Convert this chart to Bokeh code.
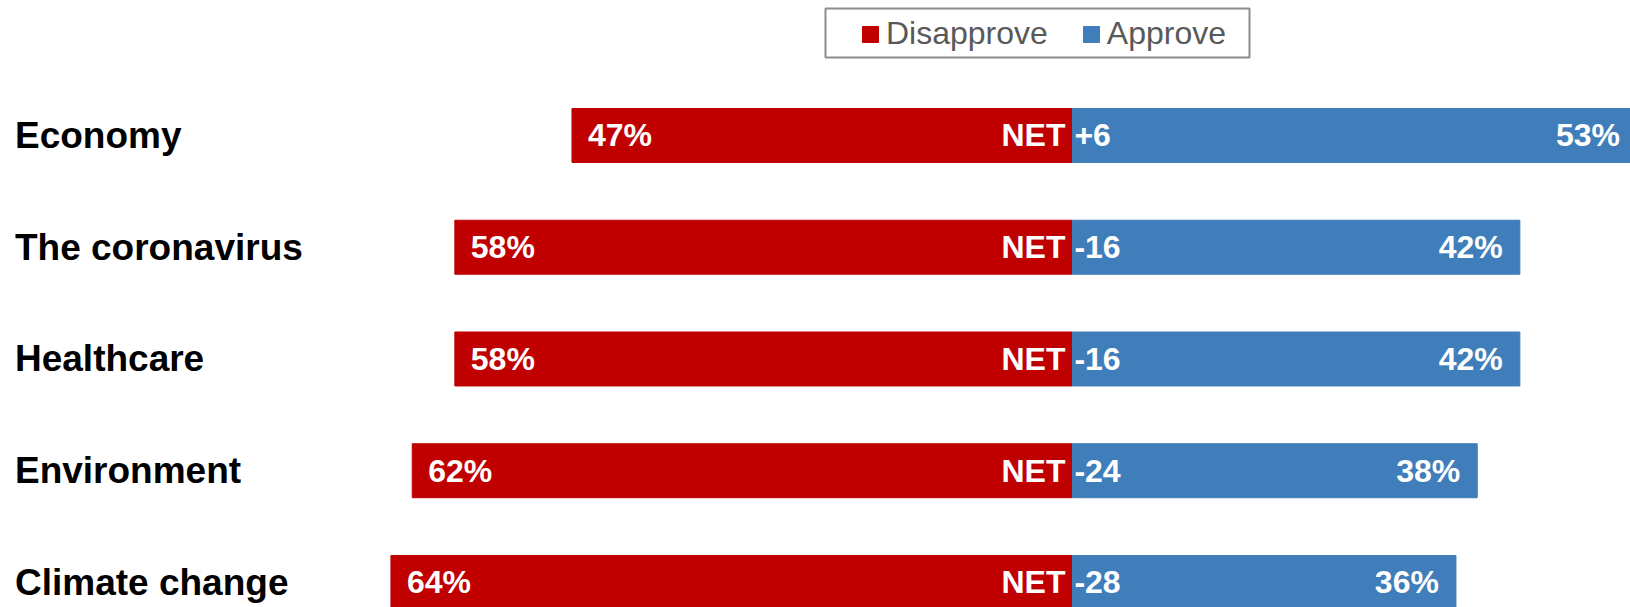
from bokeh.plotting import figure
from bokeh.models import Range1d, ColumnDataSource, Legend, LegendItem, BoxAnnotation
from bokeh.core.properties import value
from bokeh.embed import file_html
from bokeh.resources import INLINE

categories = ["Economy", "The coronavirus", "Healthcare", "Environment", "Climate change"]
disapprove = [47, 58, 58, 62, 64]
approve = [53, 42, 42, 38, 36]

RED = "#C00000"
BLUE = "#3F7EBA"
FONT = "Liberation Sans"

W, H = 1630, 607
x_start, x_end = -100.66, 52.39
y_bottom, y_top = 4.224, -1.208

ypos = list(range(len(categories)))
net = [a - d for a, d in zip(approve, disapprove)]
net_txt = ["NET " + ("+%d" % n if n > 0 else "%d" % n) for n in net]

src = ColumnDataSource(dict(
    y=ypos,
    cat=categories,
    d_left=[-d for d in disapprove],
    a_right=approve,
    d_lbl=["%d%%" % d for d in disapprove],
    a_lbl=["%d%%" % a for a in approve],
    d_lbl_x=[-d + 1.5 for d in disapprove],
    a_lbl_x=[a - 1.6 for a in approve],
    net_txt=net_txt,
    net_x=[-6.67] * len(categories),
    cat_x=[x_start + 1.36] * len(categories),
))

p = figure(width=W, height=H, output_backend="svg", toolbar_location=None,
           x_range=Range1d(x_start, x_end), y_range=Range1d(y_bottom, y_top),
           min_border=0, outline_line_color=None)
p.xaxis.visible = False
p.yaxis.visible = False
p.grid.visible = False

r_d = p.hbar(y="y", left="d_left", right=0, height=0.483, color=RED, source=src)
r_a = p.hbar(y="y", left=0, right="a_right", height=0.483, color=BLUE, source=src)

p.text(x="cat_x", y="y", text="cat", source=src, text_font=value(FONT),
       text_font_style="bold", text_font_size="37px", text_color="black",
       text_baseline="middle", text_align="left")
p.text(x="d_lbl_x", y="y", text="d_lbl", source=src, text_font=value(FONT),
       text_font_style="bold", text_font_size="32px", text_color="white",
       text_baseline="middle", text_align="left")
p.text(x="a_lbl_x", y="y", text="a_lbl", source=src, text_font=value(FONT),
       text_font_style="bold", text_font_size="32px", text_color="white",
       text_baseline="middle", text_align="right")
p.text(x="net_x", y="y", text="net_txt", source=src, text_font=value(FONT),
       text_font_style="bold", text_font_size="32px", text_color="white",
       text_baseline="middle", text_align="left")

# legend frame
frame_box = BoxAnnotation(left=825, right=1249, top=H - 8, bottom=H - 57,
                          left_units="screen", right_units="screen",
                          top_units="screen", bottom_units="screen",
                          fill_color="white", fill_alpha=1.0,
                          line_color="#8C8C8C", line_width=2, line_alpha=1.0)
p.add_layout(frame_box)

legend = Legend(items=[LegendItem(label="Disapprove", renderers=[r_d]),
                       LegendItem(label="Approve", renderers=[r_a])],
                orientation="horizontal", location=(860, H - 52),
                label_text_font=FONT, label_text_font_size="32px",
                label_text_color="#595959", glyph_width=20, glyph_height=20,
                label_standoff=6, spacing=33, padding=7, margin=0,
                label_height=37,
                border_line_color=None, background_fill_alpha=0.0)
p.add_layout(legend, "center")

open("out.html", "w").write(file_html(p, INLINE))
